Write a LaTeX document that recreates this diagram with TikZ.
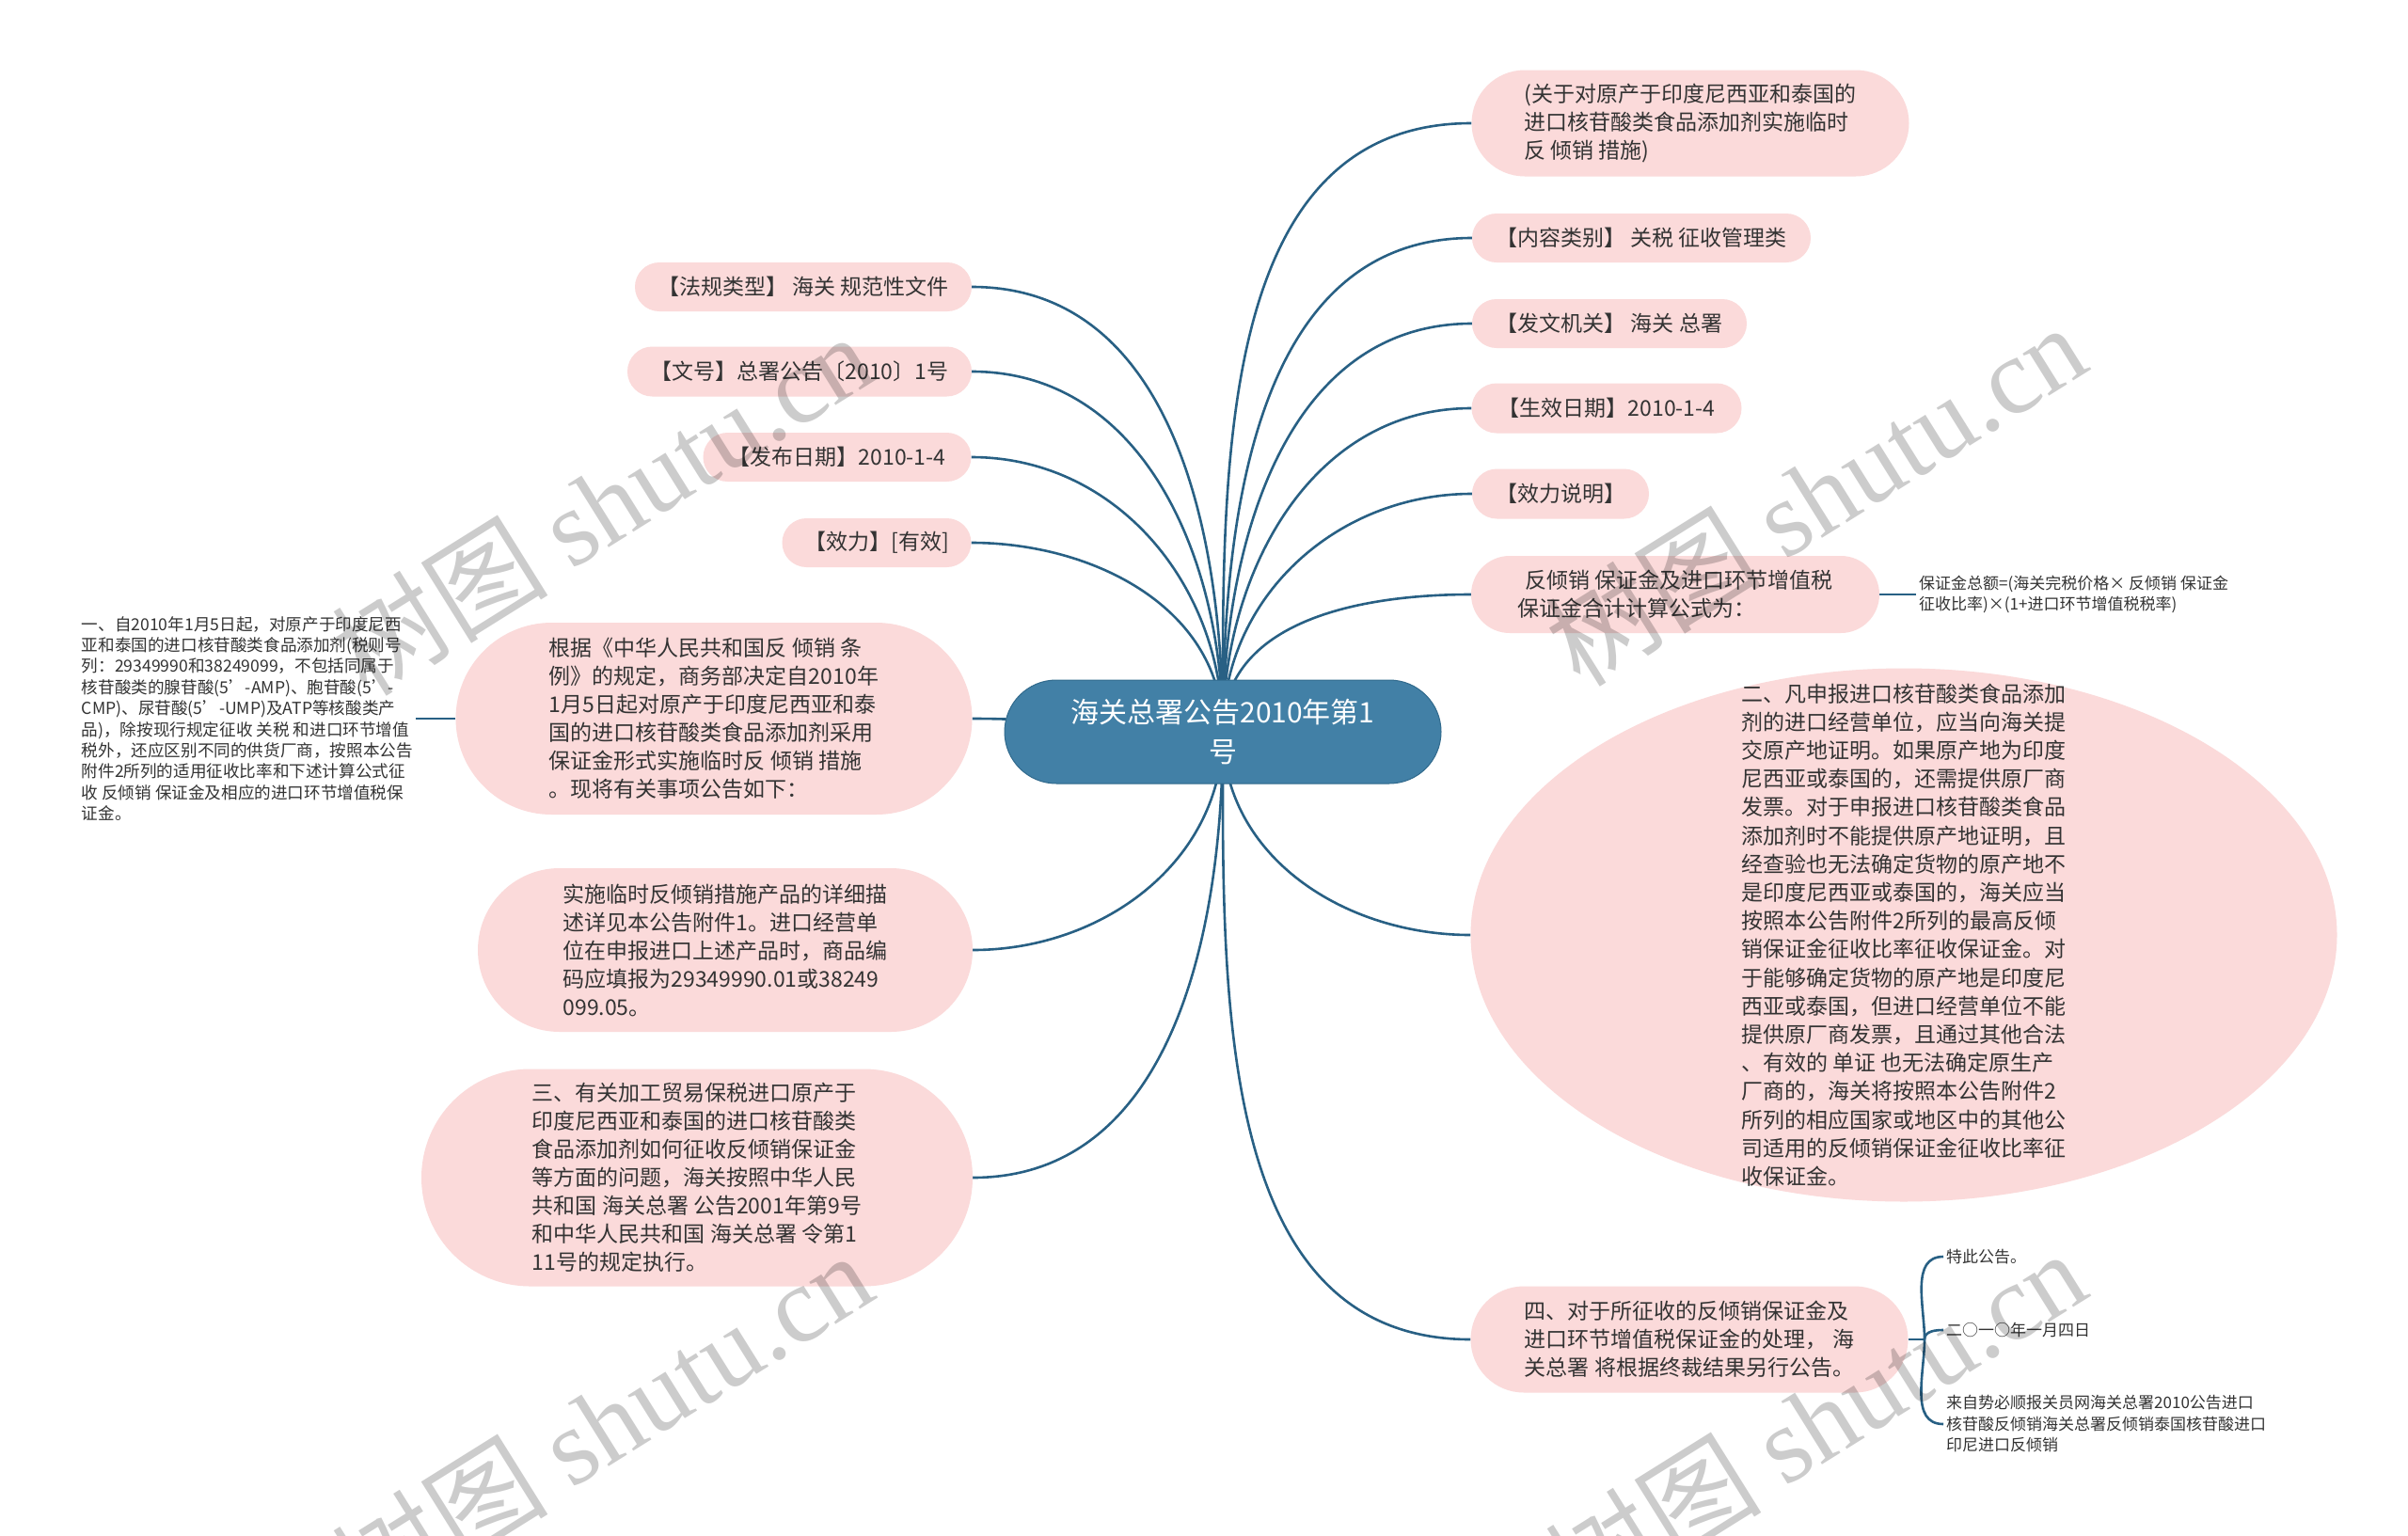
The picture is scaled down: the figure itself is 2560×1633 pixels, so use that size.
\documentclass[tikz,border=0pt]{standalone}
\usepackage{fontspec}
\setmainfont{Noto Sans CJK SC}
\newfontfamily\wmserif{Liberation Serif}
\usetikzlibrary{shapes.misc,shapes.geometric,backgrounds}
\definecolor{pinkfill}{RGB}{251,218,218}
\definecolor{rootfill}{RGB}{66,128,166}
\definecolor{rootline}{RGB}{48,105,140}
\definecolor{branchline}{RGB}{40,96,132}
\definecolor{inktext}{RGB}{51,51,51}
\tikzset{
  topic/.style={rounded rectangle, fill=rootfill, draw=rootline, line width=1pt, text=white,
    inner sep=0pt, align=center, font=\fontsize{30}{42}\selectfont},
  leaf/.style={rounded rectangle, fill=pinkfill, text=inktext, inner sep=0pt,
    align=left, font=\fontsize{23}{30}\selectfont},
  bigleaf/.style={ellipse, fill=pinkfill, text=inktext, inner xsep=0pt, inner ysep=-68pt,
    align=left, font=\fontsize{23}{30.2}\selectfont},
  note/.style={text=inktext, inner sep=3pt, align=left, font=\fontsize{17}{22.5}\selectfont},
  branch/.style={draw=branchline, line width=2.6pt},
  wmtext/.style={text=black, opacity=0.2, inner sep=0pt, font=\fontsize{115}{115}\selectfont}
}
\begin{document}
\begin{tikzpicture}[x=1pt, y=-1pt]
  \useasboundingbox (0,0) rectangle (2560,1633);
  \node[topic, minimum width=464pt, minimum height=110pt] (root) at (1300,778)
    {海关总署公告2010年第1\\号};
  % right side
  \node[leaf, minimum width=465pt, minimum height=113pt] (r1) at (1797,131)
    {(关于对原产于印度尼西亚和泰国的\\进口核苷酸类食品添加剂实施临时\\反 倾销 措施)};
  \node[leaf, minimum width=360pt, minimum height=52pt] (r2) at (1745,253) {【内容类别】 关税 征收管理类};
  \node[leaf, minimum width=292pt, minimum height=52pt] (r3) at (1711,344) {【发文机关】 海关 总署};
  \node[leaf, minimum width=287pt, minimum height=53pt] (r4) at (1708,434) {【生效日期】2010-1-4};
  \node[leaf, minimum width=188pt, minimum height=53pt] (r5) at (1659,525) {【效力说明】};
  \node[leaf, minimum width=434pt, minimum height=82pt] (r6) at (1781,632)
    {\hspace*{8pt}反倾销 保证金及进口环节增值税\\保证金合计计算公式为：};
  \node[note, anchor=west] (f6) at (2037,632)
    {保证金总额=(海关完税价格× 反倾销 保证金\\征收比率)×(1+进口环节增值税税率)};
  \node[bigleaf, minimum width=921pt, minimum height=567pt] (r7) at (2024,994)
    {二、凡申报进口核苷酸类食品添加\\剂的进口经营单位，应当向海关提\\交原产地证明。如果原产地为印度\\尼西亚或泰国的，还需提供原厂商\\发票。对于申报进口核苷酸类食品\\添加剂时不能提供原产地证明，且\\经查验也无法确定货物的原产地不\\是印度尼西亚或泰国的，海关应当\\按照本公告附件2所列的最高反倾\\销保证金征收比率征收保证金。对\\于能够确定货物的原产地是印度尼\\西亚或泰国，但进口经营单位不能\\提供原厂商发票，且通过其他合法\\、有效的 单证 也无法确定原生产\\厂商的，海关将按照本公告附件2\\所列的相应国家或地区中的其他公\\司适用的反倾销保证金征收比率征\\收保证金。};
  \node[leaf, minimum width=465pt, minimum height=113pt] (r8) at (1796,1424)
    {四、对于所征收的反倾销保证金及\\进口环节增值税保证金的处理， 海\\关总署 将根据终裁结果另行公告。};
  \coordinate (fork) at (2046,1424);
  \node[note, anchor=west] (c1) at (2066,1336) {特此公告。};
  \node[note, anchor=west] (c2) at (2066,1414) {二○一○年一月四日};
  \node[note, anchor=west] (c3) at (2066,1514)
    {来自势必顺报关员网海关总署2010公告进口\\核苷酸反倾销海关总署反倾销泰国核苷酸进口\\印尼进口反倾销};
  % left side
  \node[leaf, minimum width=358pt, minimum height=52pt] (l1) at (854,305) {【法规类型】 海关 规范性文件};
  \node[leaf, minimum width=366pt, minimum height=53pt] (l2) at (850,395) {【文号】总署公告〔2010〕1号};
  \node[leaf, minimum width=285pt, minimum height=52pt] (l3) at (890,486) {【发布日期】2010-1-4};
  \node[leaf, minimum width=201pt, minimum height=52pt] (l4) at (932,577) {【效力】[有效]};
  \node[leaf, minimum width=549pt, minimum height=204pt] (l5) at (759,764)
    {根据《中华人民共和国反 倾销 条\\例》的规定，商务部决定自2010年\\1月5日起对原产于印度尼西亚和泰\\国的进口核苷酸类食品添加剂采用\\保证金形式实施临时反 倾销 措施\\。现将有关事项公告如下：};
  \node[note, anchor=east, font=\fontsize{17.6}{22.4}\selectfont] (l5a) at (442,764)
    {一、自2010年1月5日起，对原产于印度尼西\\亚和泰国的进口核苷酸类食品添加剂(税则号\\列：29349990和38249099，不包括同属于\\核苷酸类的腺苷酸(5’-AMP)、胞苷酸(5’-\\CMP)、尿苷酸(5’-UMP)及ATP等核酸类产\\品)，除按现行规定征收 关税 和进口环节增值\\税外，还应区别不同的供货厂商，按照本公告\\附件2所列的适用征收比率和下述计算公式征\\收 反倾销 保证金及相应的进口环节增值税保\\证金。};
  \node[leaf, minimum width=526pt, minimum height=174pt] (l6) at (771,1010)
    {实施临时反倾销措施产品的详细描\\述详见本公告附件1。进口经营单\\位在申报进口上述产品时，商品编\\码应填报为29349990.01或38249\\099.05。};
  \node[leaf, minimum width=586pt, minimum height=231pt] (l7) at (741,1252)
    {三、有关加工贸易保税进口原产于\\印度尼西亚和泰国的进口核苷酸类\\食品添加剂如何征收反倾销保证金\\等方面的问题，海关按照中华人民\\共和国 海关总署 公告2001年第9号\\和中华人民共和国 海关总署 令第1\\11号的规定执行。};
  \begin{scope}[on background layer]
    \fill[white] (0,0) rectangle (2560,1633);
    \begin{scope}[branch]
      \draw (root.center) to[out=90,in=180] (r1.west);
      \draw (root.center) to[out=90,in=180] (r2.west);
      \draw (root.center) to[out=90,in=180] (r3.west);
      \draw (root.center) to[out=90,in=180] (r4.west);
      \draw (root.center) to[out=90,in=180] (r5.west);
      \draw (root.center) to[out=90,in=180] (r6.west);
      \draw (root.center) to[out=-90,in=180] (r7.west);
      \draw (root.center) to[out=-90,in=180] (r8.west);
      \draw (r6.east) -- (f6.west);
      \draw (r8.east) -- (fork);
      \draw (fork) to[out=90,in=180] (c1.west);
      \draw (fork) to[out=90,in=180] (c2.west);
      \draw (fork) to[out=-90,in=180] (c3.west);
      \draw (root.center) to[out=90,in=0] (l1.east);
      \draw (root.center) to[out=90,in=0] (l2.east);
      \draw (root.center) to[out=90,in=0] (l3.east);
      \draw (root.center) to[out=90,in=0] (l4.east);
      \draw (root.center) to[out=180,in=0] (l5.east);
      \draw (root.center) to[out=-90,in=0] (l6.east);
      \draw (root.center) to[out=-90,in=0] (l7.east);
      \draw (l5.west) -- (l5a.east);
    \end{scope}
  \end{scope}
  \node[wmtext, rotate=32] (wm1) at (640,535) {树图 {\wmserif shutu.cn}};
  \node[wmtext, rotate=32] (wm2) at (1930,525) {树图 {\wmserif shutu.cn}};
  \node[wmtext, rotate=32] (wm3) at (640,1512) {树图 {\wmserif shutu.cn}};
  \node[wmtext, rotate=32] (wm4) at (1930,1510) {树图 {\wmserif shutu.cn}};
\end{tikzpicture}
\end{document}
